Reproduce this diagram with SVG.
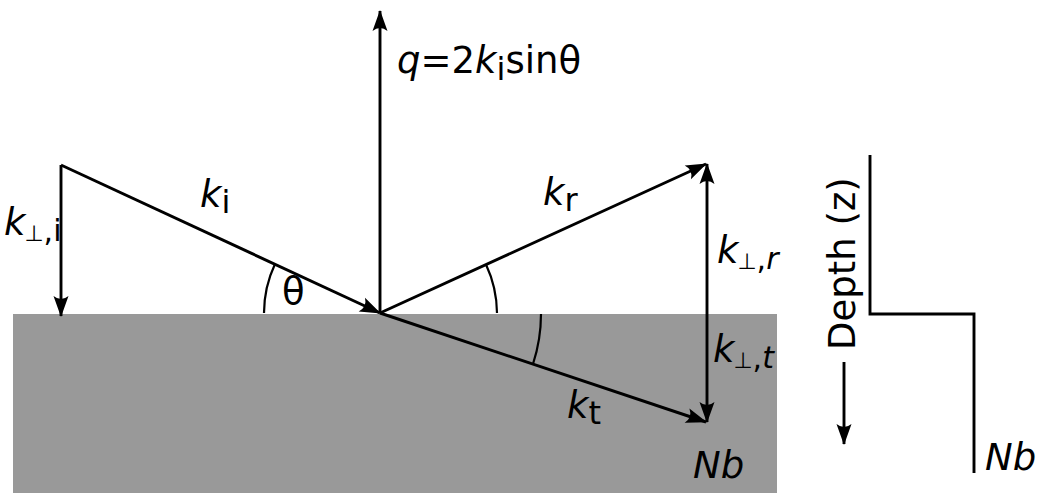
<svg xmlns="http://www.w3.org/2000/svg" width="1039" height="493" viewBox="0 0 1039 493">
<style>
.ln{stroke:#000;stroke-width:2.9;fill:none}
.arc{stroke:#000;stroke-width:2.2;fill:none}
text{font-family:"DejaVu Sans","Liberation Sans",sans-serif;font-size:37px;fill:#000}
.it{font-style:italic}
</style>
<defs>
<marker id="ah" markerUnits="userSpaceOnUse" orient="auto" refX="0" refY="0" markerWidth="26" markerHeight="20" viewBox="-22 -10 26 20" overflow="visible">
<path d="M1,0 L-20,-7.5 Q-14,0 -20,7.5 Z" fill="#000"/>
</marker>
</defs>
<rect id="substrate" x="13" y="314" width="764" height="179" fill="#999"/>
<g id="connectors">
<line class="ln" x1="61" y1="165" x2="61" y2="316" marker-end="url(#ah)"/>
<line class="ln" x1="61" y1="165" x2="380" y2="313" marker-end="url(#ah)"/>
<line class="ln" x1="380" y1="313" x2="380" y2="11" marker-end="url(#ah)"/>
<line class="ln" x1="380" y1="313" x2="706" y2="164" marker-end="url(#ah)"/>
<line class="ln" x1="707" y1="313" x2="707" y2="164" marker-end="url(#ah)"/>
<line class="ln" x1="707" y1="313" x2="707" y2="422" marker-end="url(#ah)"/>
<line class="ln" x1="380" y1="313" x2="706" y2="422" marker-end="url(#ah)"/>
<path class="arc" d="M264,313 A116,116 0 0 1 275,264"/>
<path class="arc" d="M497,313 A117,117 0 0 0 486,264.5"/>
<path class="arc" d="M541,314 A161,161 0 0 1 533,364"/>
</g>
<g id="labels">
<text x="397" y="73"><tspan class="it">q</tspan>=2<tspan class="it">k</tspan><tspan font-size="32" dy="7">i</tspan><tspan dy="-7">sinθ</tspan></text>
<text x="200" y="207"><tspan class="it">k</tspan><tspan font-size="32" dy="6">i</tspan></text>
<text x="4" y="235"><tspan class="it">k</tspan><tspan font-size="22" dx="-1" dy="6">⊥</tspan><tspan font-size="30">,i</tspan></text>
<text x="282" y="304" font-size="27">θ</text>
<text x="543" y="205"><tspan class="it">k</tspan><tspan font-size="32" dy="6">r</tspan></text>
<text x="717" y="263"><tspan class="it">k</tspan><tspan font-size="22" dx="-1" dy="6">⊥</tspan><tspan font-size="30">,</tspan><tspan font-size="30" class="it">r</tspan></text>
<text x="713" y="362"><tspan class="it">k</tspan><tspan font-size="22" dx="-1" dy="6">⊥</tspan><tspan font-size="30">,</tspan><tspan font-size="30" class="it">t</tspan></text>
<text x="567" y="418"><tspan class="it">k</tspan><tspan font-size="32" dy="6">t</tspan></text>
<text x="693" y="478" class="it">Nb</text>
</g>
<g id="depth-profile">
<polyline class="ln" points="870,155 870,314 974,314 974,473"/>
<line class="ln" x1="844" y1="362" x2="844" y2="444" marker-end="url(#ah)"/>
<text transform="translate(855,350) rotate(-90)">Depth (z)</text>
<text x="985" y="470" class="it">Nb</text>
</g>
</svg>
